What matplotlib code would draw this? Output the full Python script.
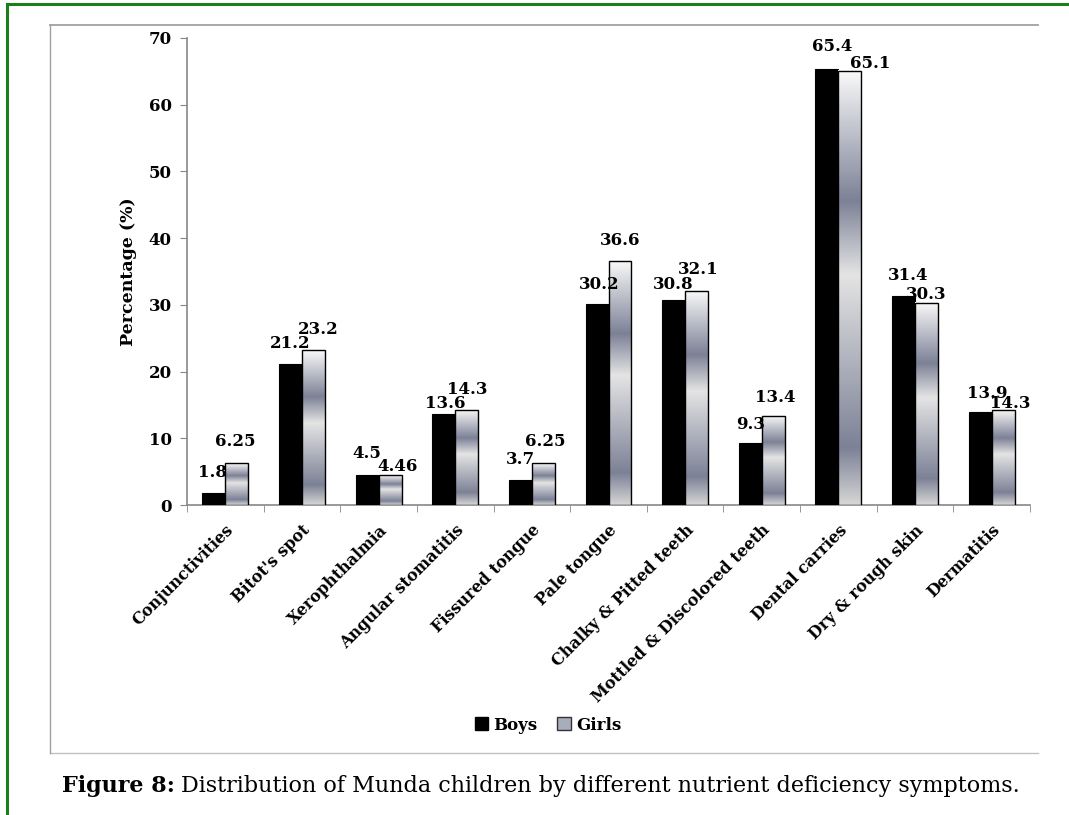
import matplotlib
matplotlib.use("Agg")
import matplotlib.pyplot as plt
import numpy as np
from matplotlib.colors import LinearSegmentedColormap
from matplotlib.lines import Line2D
from matplotlib.patches import Patch

categories = ["Conjunctivities", "Bitot's spot", "Xerophthalmia", "Angular stomatitis",
              "Fissured tongue", "Pale tongue", "Chalky & Pitted teeth",
              "Mottled & Discolored teeth", "Dental carries", "Dry & rough skin", "Dermatitis"]
boys = [1.8, 21.2, 4.5, 13.6, 3.7, 30.2, 30.8, 9.3, 65.4, 31.4, 13.9]
girls = [6.25, 23.2, 4.46, 14.3, 6.25, 36.6, 32.1, 13.4, 65.1, 30.3, 14.3]
boys_labels = ["1.8", "21.2", "4.5", "13.6", "3.7", "30.2", "30.8", "9.3", "65.4", "31.4", "13.9"]
girls_labels = ["6.25", "23.2", "4.46", "14.3", "6.25", "36.6", "32.1", "13.4", "65.1", "30.3", "14.3"]
yticks = [0, 10, 20, 30, 40, 50, 60, 70]

# label placement tweaks in pixels (dx, gap above bar top), as in the reference
boys_offsets = [(-1, 12), (0, 12), (0, 13), (2, 2), (0, 12), (2, 11),
                (0, 7), (0, 10), (5, 14), (5, 12), (7, 10)]
girls_offsets = [(-2, 13), (5, 12), (7, 0), (1, 12), (2, 13), (0, 12),
                 (2, 13), (2, 10), (20, -1), (0, 0), (7, -2)]

W, H = 1069, 815
fig = plt.figure(figsize=(W / 100, H / 100), dpi=100)
SERIF = "DejaVu Serif"

def fx(px):
    return px / W

def fy(py):
    return 1 - py / H

# outer green frame (top and left visible)
fig.add_artist(Line2D([fx(7), 1.0], [fy(4), fy(4)], color="#1a7f1a", lw=2.2))
fig.add_artist(Line2D([fx(7), fx(7)], [fy(4), 0.0], color="#1a7f1a", lw=2.2))
# chart area box
fig.add_artist(Line2D([fx(50), fx(1038)], [fy(25), fy(25)], color="#a0a0a0", lw=1.3))
fig.add_artist(Line2D([fx(50), fx(1038)], [fy(753), fy(753)], color="#c0c0c0", lw=1.0))
fig.add_artist(Line2D([fx(50), fx(50)], [fy(25), fy(753)], color="#a0a0a0", lw=1.0))

ax = fig.add_axes([fx(187), fy(505), fx(1030) - fx(187), fy(38) - fy(505)])
x = np.arange(len(categories))
bw = 0.3
bb = ax.bar(x - bw / 2, boys, bw, color="black", edgecolor="black", lw=0.8, zorder=3)
gb = ax.bar(x + bw / 2, girls, bw, color="none", edgecolor="black", lw=1.0, zorder=4)

cmap = LinearSegmentedColormap.from_list("chrome", [
    (0.0, "#fafafa"), (0.30, "#7c8196"), (0.47, "#e4e4e4"),
    (0.87, "#7c8196"), (1.0, "#d6d6d6")])
grad = np.linspace(0, 1, 256).reshape(-1, 1)
for r in gb:
    x0, w, h = r.get_x(), r.get_width(), r.get_height()
    ax.imshow(grad, cmap=cmap, aspect="auto", extent=[x0, x0 + w, 0, h],
              origin="upper", zorder=3, interpolation="bilinear")

ax.set_xlim(-0.5, len(categories) - 0.5)
ax.set_ylim(0, 70)
ax.set_yticks(yticks)
ax.set_yticklabels([str(v) for v in yticks], fontfamily=SERIF, fontweight="bold", fontsize=12)
ax.set_xticks(x)
ax.set_xticklabels(categories, rotation=45, ha="right", rotation_mode="anchor",
                   fontfamily=SERIF, fontweight="bold", fontsize=11.5)
ax.set_xticks(np.arange(len(categories) + 1) - 0.5, minor=True)
ax.tick_params(axis="x", which="major", length=0, pad=12)
ax.tick_params(axis="x", which="minor", length=5, color="#888888", direction="out")
ax.tick_params(axis="y", length=5, color="#888888", direction="out", pad=6)
for s in ["top", "right"]:
    ax.spines[s].set_visible(False)
for s in ["left", "bottom"]:
    ax.spines[s].set_color("#888888")
    ax.spines[s].set_linewidth(1.2)
ax.set_ylabel("Percentage (%)", fontfamily=SERIF, fontweight="bold", fontsize=12.5, labelpad=8)

for bars, labels, offs in [(bb, boys_labels, boys_offsets), (gb, girls_labels, girls_offsets)]:
    for r, t, (dx, gap) in zip(bars, labels, offs):
        ax.annotate(t, (r.get_x() + r.get_width() / 2, r.get_height()), xytext=(dx, gap),
                    textcoords="offset pixels", ha="center", va="bottom",
                    fontfamily=SERIF, fontweight="bold", fontsize=12, zorder=6)

handles = [Patch(facecolor="black", edgecolor="black"),
           Patch(facecolor="#a8adbb", edgecolor="#333333")]
fig.legend(handles, ["Boys", "Girls"], loc="center", bbox_to_anchor=(fx(548), fy(725)),
           ncol=2, frameon=False, handlelength=0.8, handleheight=0.8, handletextpad=0.3,
           columnspacing=1.2, prop={"family": SERIF, "weight": "bold", "size": 12})

t1 = fig.text(fx(62), fy(786), "Figure 8:", fontfamily=SERIF, fontweight="bold",
              fontsize=16, va="center", ha="left")
fig.canvas.draw()
bb1 = t1.get_window_extent()
fig.text((bb1.x1 + 6) / W, fy(786),
         "Distribution of Munda children by different nutrient deficiency symptoms.",
         fontfamily=SERIF, fontsize=16, va="center", ha="left")

fig.savefig("out.png", dpi=100)
